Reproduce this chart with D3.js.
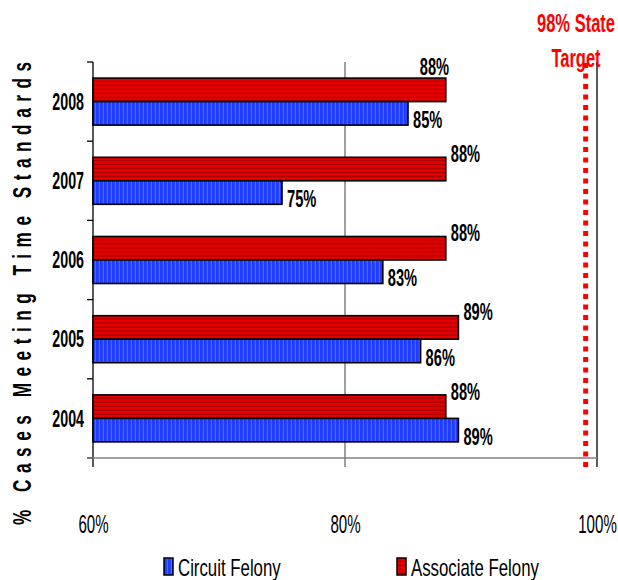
<!DOCTYPE html>
<html><head><meta charset="utf-8">
<script src="https://cdn.jsdelivr.net/npm/d3@7/dist/d3.min.js"></script>
<style>
html,body{margin:0;padding:0;background:#fff;}
svg text{font-family:"Liberation Sans",Arial,sans-serif;}
</style></head>
<body>
<svg id="chart" width="618" height="580"></svg>
<script>
// ---- data ----
const years = ["2008","2007","2006","2005","2004"];
const circuitFelony = [85,75,83,86,89];
const associateFelony = [88,88,88,89,88];
const seriesNames = ["Associate Felony","Circuit Felony"];
const xTickValues = [60,80,100];
const targetValue = 99.1;
const targetLabel = ["98% State","Target"];
const yTitle = "% Cases Meeting Time Standards";

(function(){
const svg = d3.select("#chart");
const pLeft = 93, pRight = 597, pTop = 62, pBottom = 458;

const x = d3.scaleLinear().domain([60,100]).range([pLeft,pRight]);
const y = d3.scaleBand().domain(years).range([pTop,pBottom]).padding(0);
const inner = d3.scaleBand().domain(seriesNames).range([0,y.bandwidth()]).paddingOuter(0.685).paddingInner(0);

const defs = svg.append("defs");
const pr = defs.append("pattern").attr("id","redStripe").attr("patternUnits","userSpaceOnUse").attr("width",6).attr("height",4);
pr.append("rect").attr("width",6).attr("height",4).attr("fill","#e80000");
pr.append("rect").attr("y",2.8).attr("width",6).attr("height",1.2).attr("fill","#9a0000");
const pb = defs.append("pattern").attr("id","blueStripe").attr("patternUnits","userSpaceOnUse").attr("width",4).attr("height",6);
pb.append("rect").attr("width",4).attr("height",6).attr("fill","#1f3cff");
pb.append("rect").attr("x",2.8).attr("width",1.2).attr("height",6).attr("fill","#4868ff");

function squeeze(sel,k){
  sel.each(function(){
    const n=this.getComputedTextLength();
    d3.select(this).attr("textLength",n*k).attr("lengthAdjust","spacingAndGlyphs");
  });
}

// vertical lines
svg.append("line").attr("x1",x(80)).attr("x2",x(80)).attr("y1",pTop).attr("y2",pBottom+9)
  .attr("stroke","#808080").attr("stroke-width",1.5);
svg.append("line").attr("x1",x(100)).attr("x2",x(100)).attr("y1",pTop).attr("y2",pBottom+9)
  .attr("stroke","#000").attr("stroke-width",1.3);

// bars
const rows = years.map((yr,i)=>({year:yr, values:[{s:"Associate Felony",v:associateFelony[i]},{s:"Circuit Felony",v:circuitFelony[i]}]}));
const grp = svg.append("g").selectAll("g.row").data(rows).join("g").attr("class","row")
  .attr("transform",d=>`translate(0,${y(d.year)})`);
grp.selectAll("rect").data(d=>d.values).join("rect")
  .attr("x",x(60)).attr("y",d=>inner(d.s))
  .attr("width",d=>x(d.v)-x(60)).attr("height",inner.bandwidth())
  .attr("fill",d=>d.s==="Associate Felony"?"url(#redStripe)":"url(#blueStripe)")
  .attr("stroke","#000").attr("stroke-width",1.6);

// value labels
grp.each(function(d,ri){
  const gg=d3.select(this);
  d.values.forEach(v=>{
    const isRed = v.s==="Associate Felony";
    let tx = x(v.v)+5, ty;
    if(isRed){
      ty = inner(v.s)-4;
      if(ri===0){ tx = x(v.v)-26; ty = inner(v.s)-12; }
    } else {
      ty = inner(v.s)+inner.bandwidth()/2+6;
    }
    gg.append("text").attr("class","vlab").attr("x",tx).attr("y",ty).attr("dy","0.36em")
      .attr("font-weight","bold").attr("font-size",24).attr("fill","#000")
      .text(v.v+"%");
  });
});
squeeze(svg.selectAll(".vlab"),0.61);

// target line
svg.append("line").attr("x1",x(targetValue)).attr("x2",x(targetValue)).attr("y1",pTop+1).attr("y2",pBottom+10)
  .attr("stroke","#ff0000").attr("stroke-width",5).attr("stroke-dasharray","5,5.5");
const tl = svg.append("g").selectAll("text").data(targetLabel).join("text")
  .attr("x",576).attr("y",(d,i)=>23+i*35).attr("dy","0.36em")
  .attr("text-anchor","middle").attr("font-weight","bold").attr("font-size",25).attr("fill","#ff0000").text(d=>d);
squeeze(tl,0.66);

// y axis
svg.append("line").attr("x1",pLeft).attr("x2",pLeft).attr("y1",pTop).attr("y2",pBottom+9).attr("stroke","#000").attr("stroke-width",1.3);
const bounds = years.map(d=>y(d)).concat([y.range()[1]]);
svg.selectAll("line.ytick").data(bounds).join("line").attr("class","ytick")
  .attr("x1",pLeft-6).attr("x2",pLeft).attr("y1",d=>d).attr("y2",d=>d).attr("stroke","#000").attr("stroke-width",1.3);
const yl = svg.selectAll("text.ylab").data(years).join("text").attr("class","ylab")
  .attr("x",84).attr("y",d=>y(d)+y.bandwidth()/2).attr("dy","0.36em").attr("text-anchor","end")
  .attr("font-weight","bold").attr("font-size",23).text(d=>d);
squeeze(yl,0.62);

// x axis
const xAxis = svg.append("g").attr("transform",`translate(0,${pBottom})`)
  .call(d3.axisBottom(x).tickValues(xTickValues).tickSize(0).tickPadding(0).tickFormat(d=>d+"%"));
xAxis.select(".domain").remove();
xAxis.append("line").attr("x1",pLeft-6).attr("x2",pRight).attr("y1",0).attr("y2",0).attr("stroke","#808080").attr("stroke-width",1.5);
xAxis.selectAll(".tick text").attr("y",66).attr("dy","0.36em").attr("font-size",26).attr("fill","#000")
  .attr("font-family","\"Liberation Sans\",Arial,sans-serif");
squeeze(xAxis.selectAll(".tick text"),0.58);

// y title (letter-spaced, condensed glyphs)
const tScale = 0.66;
svg.append("text").attr("transform",`translate(22,${(62+525)/2}) rotate(-90) scale(${tScale},1)`)
  .attr("text-anchor","middle").attr("dy","0.36em").attr("font-weight","bold").attr("font-size",26)
  .attr("textLength",463/tScale).attr("lengthAdjust","spacing").text(yTitle);

// legend
const legendItems = [{s:"Circuit Felony",x:164,fill:"url(#blueStripe)"},{s:"Associate Felony",x:397,fill:"url(#redStripe)"}];
const lg = svg.append("g").selectAll("g").data(legendItems).join("g").attr("transform",d=>`translate(${d.x},558)`);
lg.append("rect").attr("width",9).attr("height",17).attr("fill",d=>d.fill).attr("stroke","#000").attr("stroke-width",1.5);
const lt = lg.append("text").attr("x",14).attr("y",9).attr("dy","0.36em").attr("font-size",24).text(d=>d.s);
squeeze(lt,0.7);
})();
</script>
</body></html>
